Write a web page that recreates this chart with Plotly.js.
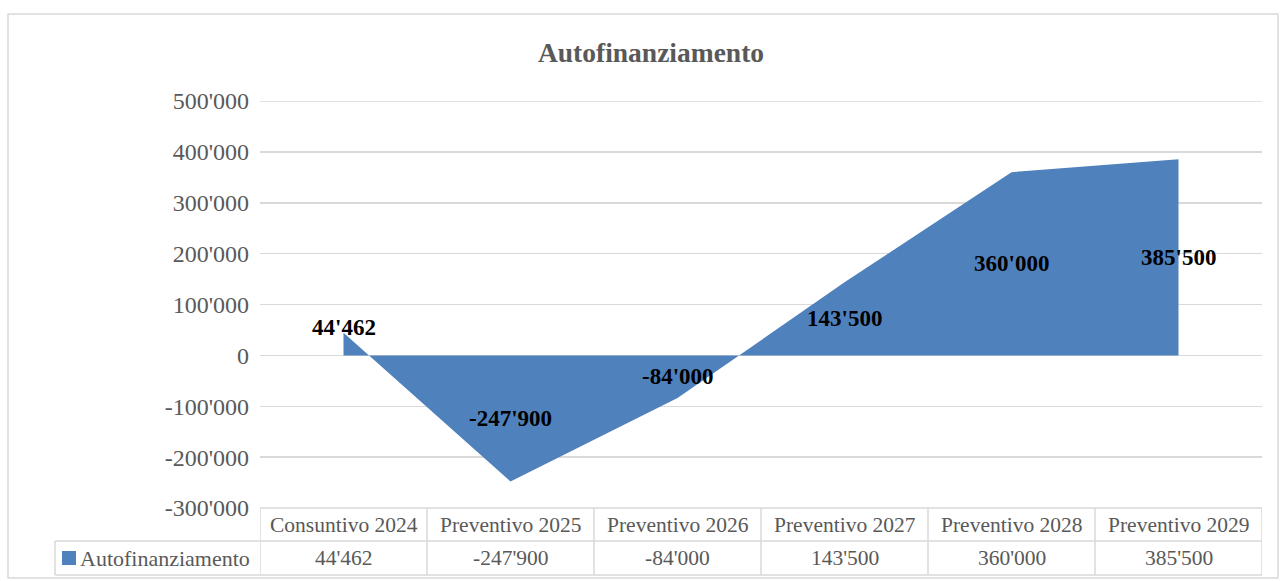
<!DOCTYPE html>
<html>
<head>
<meta charset="utf-8">
<script src="https://cdn.plot.ly/plotly-3.0.1.min.js"></script>
<style>
  html, body { margin: 0; padding: 0; background: #ffffff; }
  #chart { width: 1280px; height: 581px; }
</style>
</head>
<body>
<div id="chart"></div>
<script>
const categories = ["Consuntivo 2024", "Preventivo 2025", "Preventivo 2026", "Preventivo 2027", "Preventivo 2028", "Preventivo 2029"];
const values = [44462, -247900, -84000, 143500, 360000, 385500];
const seriesName = "Autofinanziamento";
const tickValues = [-300000, -200000, -100000, 0, 100000, 200000, 300000, 400000, 500000];

function fmt(v) {
  const s = Math.abs(Math.round(v)).toString().replace(/\B(?=(\d{3})+(?!\d))/g, "'");
  return (v < 0 ? "-" : "") + s;
}

const W = 1280, H = 581;
const m = { l: 260, r: 18, t: 101, b: 73 };
const plotW = W - m.l - m.r, plotH = H - m.t - m.b;
const px = p => (p - m.l) / plotW;          // pixel x -> paper x
const py = p => (H - m.b - p) / plotH;       // pixel y -> paper y

const FONT = "Liberation Serif";
const GRAY = "#595959";
const BORDER = "#d9d9d9";
const FILL = "#4f81bd";

const trace = {
  x: categories.map((c, i) => i),
  y: values,
  type: "scatter",
  mode: "lines",
  fill: "tozeroy",
  fillcolor: FILL,
  line: { color: FILL, width: 0 },
  name: seriesName,
  hoverinfo: "x+y"
};

const annotations = [];
const shapes = [];

// top gridline (range edge)
shapes.push({ type: "line", xref: "paper", yref: "y", x0: 0, x1: 1, y0: tickValues[tickValues.length - 1], y1: tickValues[tickValues.length - 1], line: { color: BORDER, width: 1.5 }, layer: "below" });

// data labels
values.forEach((v, i) => {
  annotations.push({
    x: i, y: v / 2, xref: "x", yref: "y",
    xanchor: "center", yanchor: "middle",
    text: "<b>" + fmt(v) + "</b>", showarrow: false,
    yshift: i === 0 ? 17 : 0,
    font: { family: FONT, size: 23, color: "#000000" }
  });
});

// data table
const rowTop = 508, rowMid = 541, rowBot = 575;
const legendLeft = 55;
const n = categories.length;
const tl = { color: BORDER, width: 1.5 };
shapes.push({ type: "line", xref: "paper", yref: "paper", x0: 0, x1: 1, y0: py(rowTop), y1: py(rowTop), line: tl });
shapes.push({ type: "line", xref: "paper", yref: "paper", x0: px(legendLeft), x1: 1, y0: py(rowMid), y1: py(rowMid), line: tl });
shapes.push({ type: "line", xref: "paper", yref: "paper", x0: px(legendLeft), x1: 1, y0: py(rowBot), y1: py(rowBot), line: tl });
for (let i = 0; i <= n; i++) {
  shapes.push({ type: "line", xref: "x", yref: "paper", x0: i - 0.5, x1: i - 0.5, y0: py(rowTop), y1: py(rowBot), line: tl });
}
shapes.push({ type: "line", xref: "paper", yref: "paper", x0: px(legendLeft), x1: px(legendLeft), y0: py(rowMid), y1: py(rowBot), line: tl });
// legend key
shapes.push({ type: "rect", xref: "paper", yref: "paper", x0: px(62), x1: px(76), y0: py(565), y1: py(551), fillcolor: FILL, line: { width: 0 } });
// outer chart border
shapes.push({ type: "rect", xref: "paper", yref: "paper", x0: px(8), x1: px(1278), y0: py(14), y1: py(578), line: tl, fillcolor: "rgba(0,0,0,0)", layer: "below" });

categories.forEach((c, i) => {
  annotations.push({
    x: i, y: py((rowTop + rowMid) / 2), xref: "x", yref: "paper",
    xanchor: "center", yanchor: "middle",
    text: c, showarrow: false,
    font: { family: FONT, size: 21.5, color: GRAY }
  });
  annotations.push({
    x: i, y: py((rowMid + rowBot) / 2), xref: "x", yref: "paper",
    xanchor: "center", yanchor: "middle",
    text: fmt(values[i]), showarrow: false,
    font: { family: FONT, size: 21.5, color: GRAY }
  });
});
annotations.push({
  x: px(78), y: py((rowMid + rowBot) / 2), xref: "paper", yref: "paper",
  xanchor: "left", yanchor: "middle", text: seriesName, showarrow: false,
  font: { family: FONT, size: 22, color: GRAY }
});

const layout = {
  width: W, height: H,
  margin: m,
  paper_bgcolor: "#ffffff",
  plot_bgcolor: "#ffffff",
  showlegend: false,
  title: {
    text: "<b>Autofinanziamento</b>",
    xref: "container", x: 651 / W, xanchor: "center",
    yref: "container", y: 1 - 52 / H, yanchor: "middle",
    font: { family: FONT, size: 27.5, color: GRAY }
  },
  xaxis: {
    range: [-0.5, n - 0.5],
    showticklabels: false,
    showgrid: false,
    zeroline: false,
    showline: false,
    fixedrange: true
  },
  yaxis: {
    range: [-300000, 500000],
    tickvals: tickValues,
    ticktext: tickValues.map(fmt),
    showgrid: true,
    gridcolor: BORDER,
    gridwidth: 1.5,
    zeroline: false,
    showline: false,
    ticks: "",
    ticklabelstandoff: 10,
    tickfont: { family: FONT, size: 24, color: GRAY },
    fixedrange: true
  },
  annotations: annotations,
  shapes: shapes
};

Plotly.newPlot("chart", [trace], layout, { displayModeBar: false, staticPlot: true });
</script>
</body>
</html>
